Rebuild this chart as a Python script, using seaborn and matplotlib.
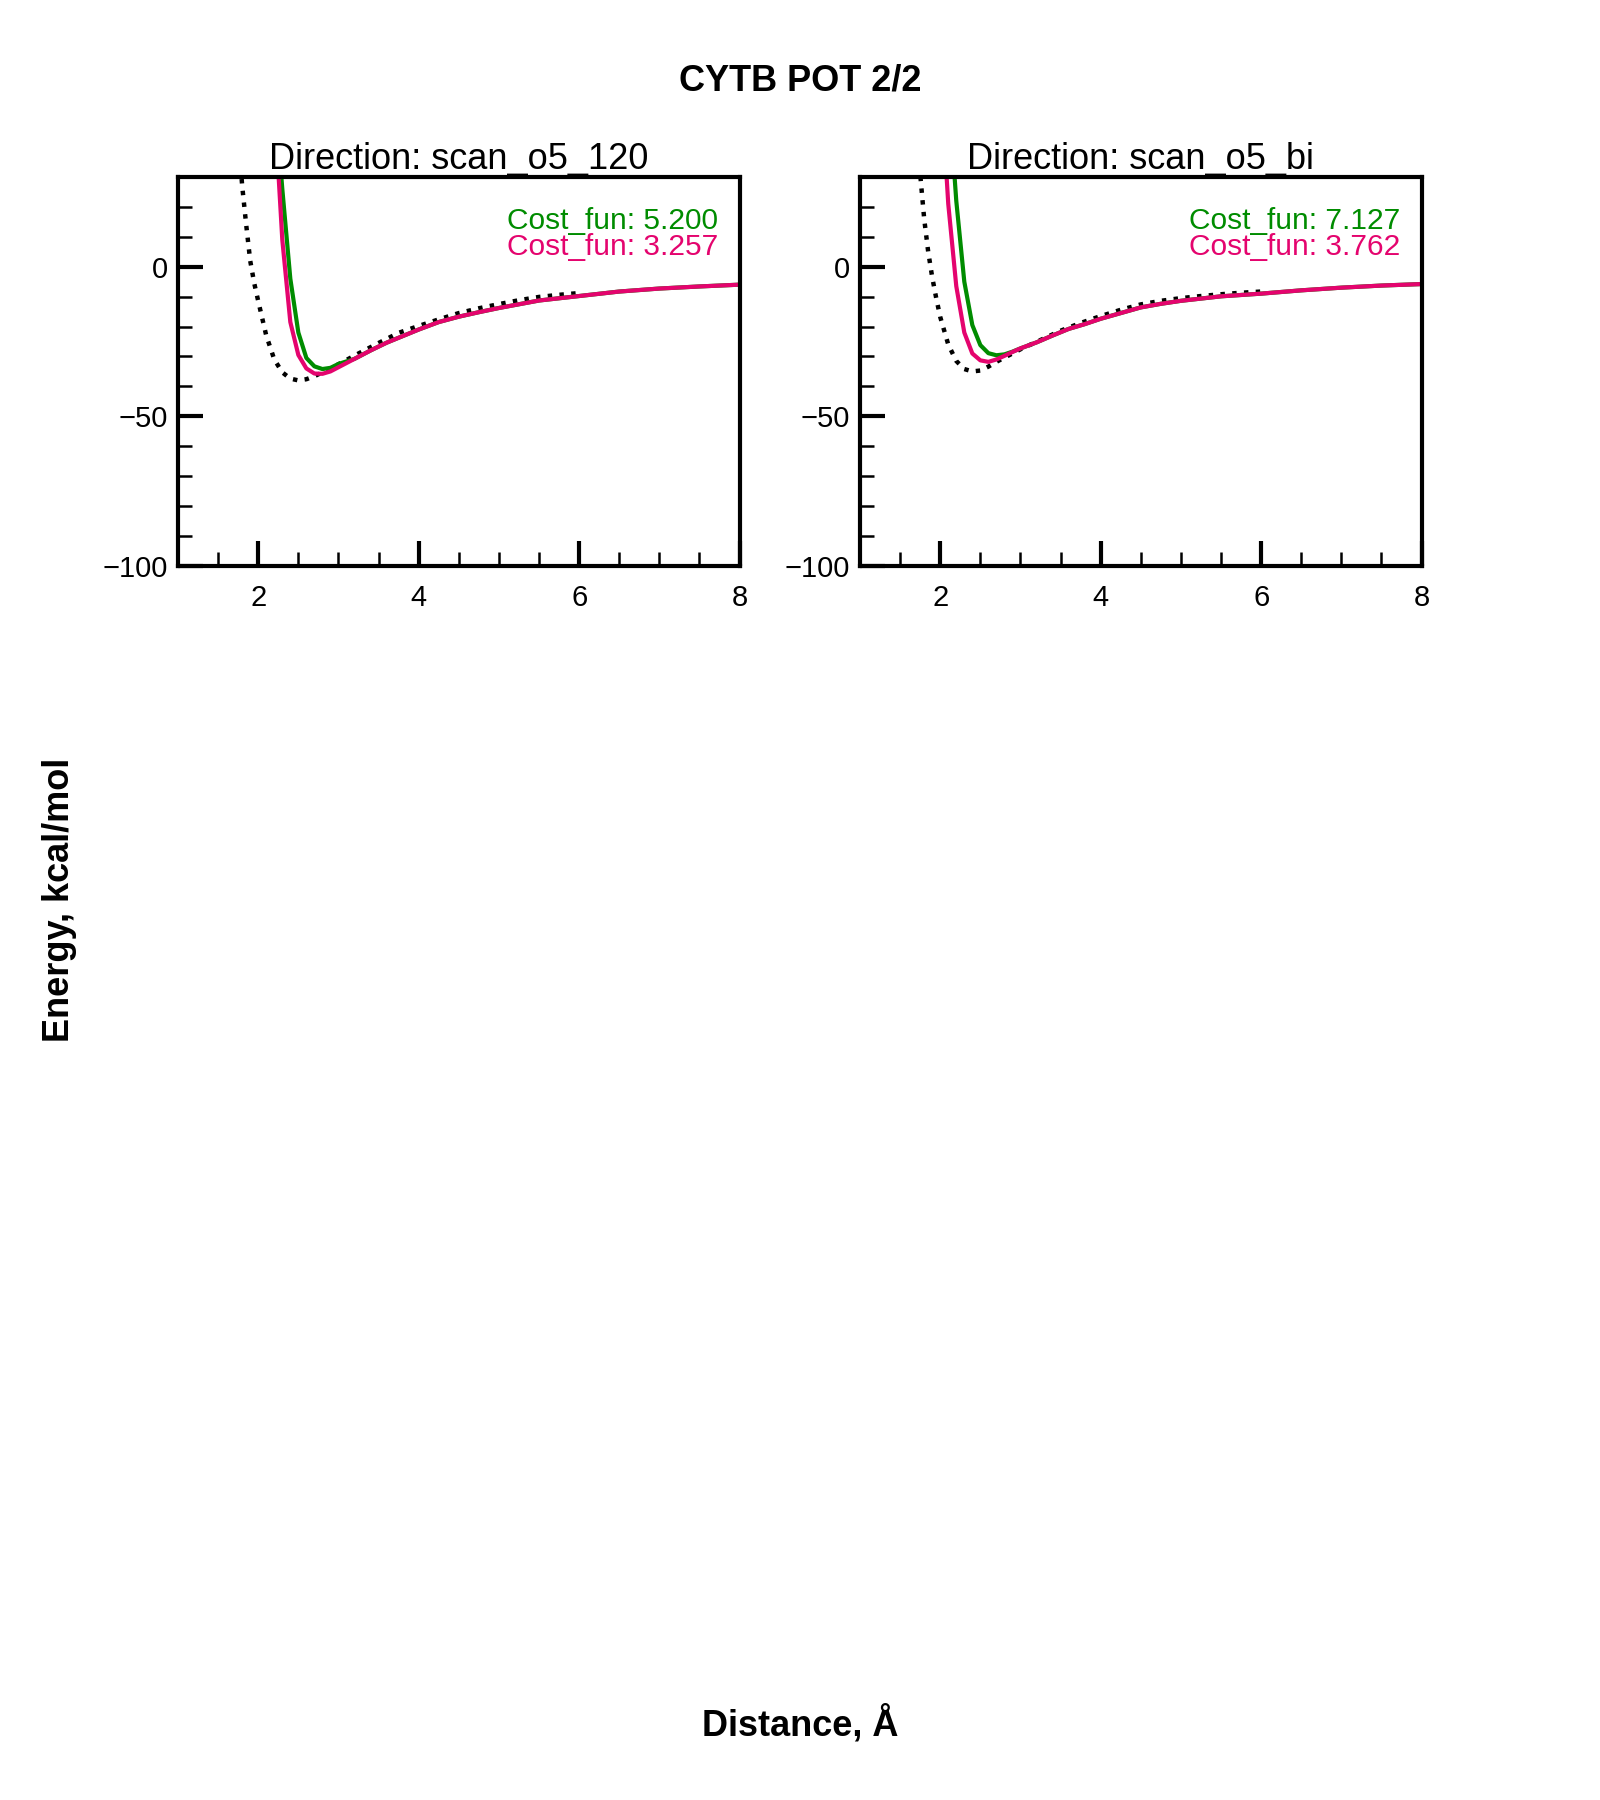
import numpy as np
import pandas as pd
import seaborn as sns
import matplotlib.pyplot as plt
from matplotlib.ticker import MultipleLocator

sns.set_style('white')
plt.rcParams['font.family'] = ['Liberation Sans', 'DejaVu Sans']
plt.rcParams['text.color'] = 'black'
plt.rcParams['axes.labelcolor'] = 'black'
plt.rcParams['xtick.color'] = 'black'
plt.rcParams['ytick.color'] = 'black'

# panel 1: scan_o5_120
ref1_x = [1.75, 1.78, 1.80, 1.85, 1.90, 1.95, 2.00, 2.10, 2.20, 2.30, 2.40, 2.50, 2.60, 2.70,
          2.80, 2.90, 3.00, 3.25, 3.50, 3.75, 4.00, 4.25, 4.50, 4.75, 5.00, 5.25, 5.50, 5.75, 6.00]
ref1_y = [45, 34, 27, 14, 2, -5.5, -11.5, -23, -31, -35.3, -37.4, -38.0, -37.6, -36.6,
          -35.3, -34.0, -32.6, -29.0, -25.5, -22.1, -19.8, -17.6, -15.5, -13.9, -12.5, -11.2, -10.1, -9.4, -8.8]
tail1_x = [3.2, 3.4, 3.6, 3.8, 4.0, 4.25, 4.5, 4.75, 5.0, 5.5, 6.0, 6.5, 7.0, 7.5, 8.0]
tail1_y = [-30.8, -28.0, -25.4, -23.2, -21.0, -18.5, -16.7, -15.2, -13.8, -11.3, -9.8, -8.3, -7.3, -6.6, -6.0]
fit1a_x = [2.2, 2.3, 2.4, 2.5, 2.6, 2.7, 2.8, 2.9, 3.0] + tail1_x
fit1a_y = [60, 26, -4, -22, -30.5, -33.3, -34.2, -33.8, -32.5] + tail1_y
fit1b_x = [2.2, 2.3, 2.4, 2.5, 2.6, 2.7, 2.8, 2.9, 3.0] + tail1_x
fit1b_y = [55, 9, -18.5, -29.5, -34.0, -35.7, -35.8, -35.0, -33.6] + tail1_y

# panel 2: scan_o5_bi
ref2_x = [1.74, 1.76, 1.80, 1.85, 1.90, 1.95, 2.00, 2.10, 2.20, 2.30, 2.40, 2.50, 2.60, 2.70,
          2.80, 2.90, 3.00, 3.25, 3.50, 3.75, 4.00, 4.25, 4.50, 4.75, 5.00, 5.25, 5.50, 5.75, 6.00]
ref2_y = [34, 28, 16, 5, -3.5, -10.5, -16.8, -26.0, -31.5, -34.2, -35.0, -34.7, -33.4, -31.8,
          -30.4, -29.0, -27.6, -24.5, -21.4, -18.8, -16.5, -14.4, -12.6, -11.4, -10.5, -9.8, -9.2, -8.7, -8.3]
tail2_x = [3.2, 3.4, 3.6, 3.8, 4.0, 4.25, 4.5, 4.75, 5.0, 5.5, 6.0, 6.5, 7.0, 7.5, 8.0]
tail2_y = [-25.3, -23.0, -20.8, -19.2, -17.4, -15.5, -13.6, -12.4, -11.4, -9.9, -9.0, -7.9, -7.0, -6.3, -5.8]
fit2a_x = [2.1, 2.2, 2.3, 2.4, 2.5, 2.6, 2.7, 2.8, 2.9, 3.0] + tail2_x
fit2a_y = [60, 22, -5, -19.5, -26.2, -28.9, -29.6, -29.3, -28.4, -27.3] + tail2_y
fit2b_x = [2.0, 2.1, 2.2, 2.3, 2.4, 2.5, 2.6, 2.7, 2.8, 2.9, 3.0] + tail2_x
fit2b_y = [65, 21, -6.5, -22, -29, -31.3, -31.8, -31.0, -29.8, -28.5, -27.3] + tail2_y

titles = ['Direction: scan_o5_120', 'Direction: scan_o5_bi']
costs_a = ['Cost_fun: 5.200', 'Cost_fun: 7.127']
costs_b = ['Cost_fun: 3.257', 'Cost_fun: 3.762']

green = '#008C00'
pink = '#E4046E'

panels = [
    (ref1_x, ref1_y, fit1a_x, fit1a_y, fit1b_x, fit1b_y),
    (ref2_x, ref2_y, fit2a_x, fit2a_y, fit2b_x, fit2b_y),
]

fig = plt.figure(figsize=(16, 18), dpi=100)
lefts = [0.11125, 0.5375]

for i, (rx, ry, ax_, ay, bx, by) in enumerate(panels):
    ax = fig.add_axes([lefts[i], 0.6856, 0.351, 0.2161])
    ref = pd.DataFrame({'r': rx, 'E': ry})
    fa = pd.DataFrame({'r': ax_, 'E': ay})
    fb = pd.DataFrame({'r': bx, 'E': by})
    sns.lineplot(data=ref, x='r', y='E', ax=ax, color='black', linewidth=3.2, linestyle=':')
    sns.lineplot(data=fa, x='r', y='E', ax=ax, color=green, linewidth=3)
    sns.lineplot(data=fb, x='r', y='E', ax=ax, color=pink, linewidth=3)
    ax.set_xlim(1, 8)
    ax.set_ylim(-100, 30)
    ax.set_xlabel('')
    ax.set_ylabel('')
    t = ax.set_title(titles[i], fontsize=26, pad=6)
    t.set_zorder(5)
    ax.xaxis.set_major_locator(MultipleLocator(2))
    ax.xaxis.set_minor_locator(MultipleLocator(0.5))
    ax.yaxis.set_major_locator(MultipleLocator(50))
    ax.yaxis.set_minor_locator(MultipleLocator(10))
    ax.tick_params(which='both', direction='in', top=False, right=False, left=True, bottom=True)
    ax.tick_params(which='major', length=18, width=3, labelsize=21)
    ax.tick_params(which='minor', length=10, width=1.8)
    ax.tick_params(axis='x', which='major', pad=13)
    ax.tick_params(axis='y', which='major', pad=7)
    for s in ax.spines.values():
        s.set_linewidth(3)
        s.set_color('black')
    ax.text(0.962, 0.866, costs_a[i], color=green, fontsize=21.5, ha='right', va='baseline',
            transform=ax.transAxes)
    ax.text(0.962, 0.799, costs_b[i], color=pink, fontsize=21.5, ha='right', va='baseline',
            transform=ax.transAxes)

fig.text(0.5, 0.955, 'CYTB POT 2/2', fontsize=26, fontweight='bold', ha='center', va='center')
fig.text(0.5, 0.036, 'Distance, Å', fontsize=26, fontweight='bold', ha='center', va='baseline')
fig.text(0.037, 0.5, 'Energy, kcal/mol', fontsize=26, fontweight='bold', ha='center', va='center',
         rotation=90)

fig.savefig('out.png', dpi=100, facecolor='white')
